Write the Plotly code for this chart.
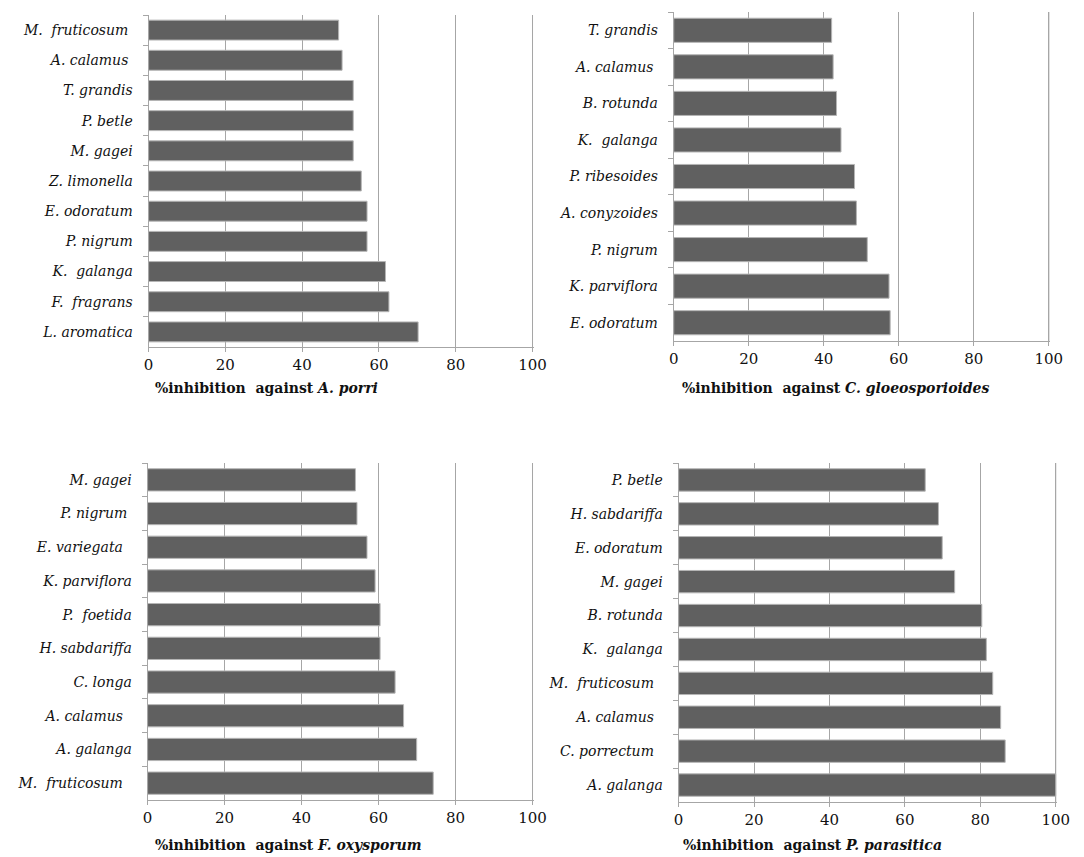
import plotly.graph_objects as go

# ---- data (top-to-bottom order as shown) ----
porri_species = ["M.  fruticosum ", "A. calamus ", "T. grandis", "P. betle", "M. gagei",
                 "Z. limonella", "E. odoratum", "P. nigrum", "K.  galanga", "F.  fragrans", "L. aromatica"]
porri_values = [49.5, 50.4, 53.3, 53.3, 53.3, 55.4, 56.9, 56.9, 61.7, 62.6, 70.2]

gloeo_species = ["T. grandis", "A. calamus ", "B. rotunda", "K.  galanga", "P. ribesoides",
                 "A. conyzoides", "P. nigrum", "K. parviflora", "E. odoratum"]
gloeo_values = [42.1, 42.5, 43.4, 44.6, 48.2, 48.7, 51.6, 57.4, 57.7]

oxy_species = ["M. gagei", "P. nigrum ", "E. variegata  ", "K. parviflora", "P.  foetida",
               "H. sabdariffa", "C. longa", "A. calamus  ", "A. galanga", "M.  fruticosum  "]
oxy_values = [54.0, 54.4, 57.0, 59.1, 60.4, 60.4, 64.3, 66.5, 69.9, 74.2]

para_species = ["P. betle", "H. sabdariffa", "E. odoratum", "M. gagei", "B. rotunda",
                "K.  galanga", "M.  fruticosum  ", "A. calamus  ", "C. porrectum  ", "A. galanga"]
para_values = [65.4, 68.9, 69.9, 73.2, 80.4, 81.6, 83.3, 85.4, 86.6, 100.0]

x_ticks = [0, 20, 40, 60, 80, 100]

titles = ["A. porri", "C. gloeosporioides", "F. oxysporum", "P. parasitica"]

W, H = 1084, 857
# plot areas in pixels: (left, right, top, bottom)
boxes = [(146, 538, 15, 347), (680, 1063, 12, 341), (145, 538, 463, 800), (685, 1070, 463, 802)]
title_pos = [(151, 388), (686, 388), (150, 845), (687, 845)]

datasets = [(porri_species, porri_values), (gloeo_species, gloeo_values),
            (oxy_species, oxy_values), (para_species, para_values)]

serif = "DejaVu Serif"
grid_col = "#a6a6a6"
bar_col = "#606060"

fig = go.Figure()
layout = dict(
    width=W, height=H, margin=dict(l=0, r=0, t=0, b=0),
    paper_bgcolor="white", plot_bgcolor="white", showlegend=False,
    bargap=0.34, annotations=[], shapes=[],
    font=dict(family=serif),
)

for i, ((sp, vals), box) in enumerate(zip(datasets, boxes)):
    n = "" if i == 0 else str(i + 1)
    fig.add_trace(go.Bar(
        x=vals, y=sp, orientation="h",
        marker=dict(color=bar_col, line=dict(color="#b5b5b5", width=1)),
        xaxis="x" + n, yaxis="y" + n, hoverinfo="x+y",
    ))
    l, r, t, b = box
    layout["xaxis" + n] = dict(
        domain=[l / W, r / W], anchor="y" + n, range=[0, 100.4],
        tickvals=x_ticks, ticktext=[str(v) for v in x_ticks],
        showgrid=True, gridcolor=grid_col, gridwidth=1,
        showline=True, linecolor=grid_col, linewidth=1,
        ticks="outside", ticklen=4, tickcolor=grid_col,
        tickfont=dict(family=serif, size=15, color="#111111"),
        zeroline=False, fixedrange=True,
    )
    layout["yaxis" + n] = dict(
        domain=[1 - b / H, 1 - t / H], anchor="x" + n,
        type="category", autorange="reversed",
        showgrid=False, showline=True, linecolor=grid_col, linewidth=1,
        ticks="outside", ticklen=5, tickcolor=grid_col, tickson="boundaries",
        ticklabelstandoff=12,
        tickfont=dict(family=serif, size=14, color="#111111", style="italic"),
        zeroline=False, fixedrange=True,
    )
    # gridline at the right end of the axis (value 100)
    layout["shapes"].append(dict(
        type="line", xref="x" + n, yref="y" + n + " domain",
        x0=x_ticks[-1], x1=x_ticks[-1], y0=0, y1=1,
        line=dict(color=grid_col, width=1), layer="below",
    ))
    tx, ty = title_pos[i]
    layout["annotations"].append(dict(
        x=tx / W, y=1 - ty / H, xref="paper", yref="paper",
        xanchor="left", yanchor="middle", showarrow=False,
        text="<b>%inhibition  against <i>" + titles[i] + "</i></b>",
        font=dict(family=serif, size=14, color="#111111"),
    ))

fig.update_layout(**layout)
fig.write_html("out.html", config={"displayModeBar": False},
               post_script="document.body.style.margin='0';")
